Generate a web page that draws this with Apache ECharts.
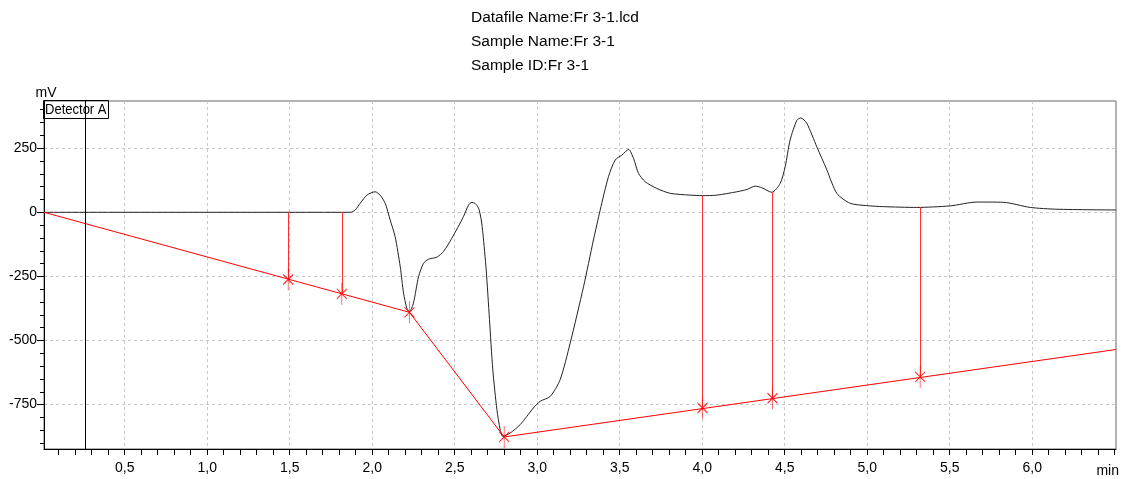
<!DOCTYPE html>
<html>
<head>
<meta charset="utf-8">
<script src="https://cdn.jsdelivr.net/npm/echarts@6/dist/echarts.min.js"></script>
<style>
html,body{margin:0;padding:0;background:#fff;}
#chart{width:1121px;height:479px;}
</style>
</head>
<body>
<div id="chart"></div>
<script>
// ---- Data ----
var titleLines = ['Datafile Name:Fr 3-1.lcd', 'Sample Name:Fr 3-1', 'Sample ID:Fr 3-1'];

var traceT = [0.011, 1.80, 1.867, 1.897, 1.927, 1.97, 2.018, 2.048, 2.079, 2.109, 2.139, 2.170, 2.19, 2.21, 2.226,
  2.25, 2.281, 2.311, 2.341, 2.392, 2.432, 2.483, 2.553, 2.584, 2.604, 2.625, 2.645, 2.661, 2.671, 2.691, 2.711,
  2.731, 2.756, 2.776, 2.792, 2.836, 2.897, 2.937, 2.977, 3.018, 3.079, 3.139, 3.2, 3.281, 3.341, 3.382, 3.432,
  3.473, 3.513, 3.554, 3.584, 3.614, 3.655, 3.725, 3.806, 3.927, 4.002, 4.089, 4.21, 4.271, 4.321, 4.361, 4.422,
  4.473, 4.503, 4.533, 4.574, 4.598, 4.634, 4.695, 4.756, 4.816, 4.897, 4.998, 5.099, 5.30, 5.503, 5.665, 5.826,
  5.988, 6.15, 6.508];
var traceV = [0, 0, 0, 9, 35, 68, 80, 67, 35, -30, -95, -212, -315, -374, -387,
  -354, -251, -199, -183, -175, -153, -101, -17, 28, 39, 34, 16, -30, -82, -225, -419,
  -614, -770, -848, -874, -861, -828, -796, -763, -737, -718, -653, -510, -290, -108, 9, 139,
  204, 223, 245, 210, 152, 119, 93, 74, 67, 65, 67, 80, 89, 102, 96, 78,
  113, 178, 282, 359, 368, 347, 255, 165, 74, 35, 26, 22, 19, 25, 40, 39,
  19, 12, 9];

var baseT = [0.011, 2.226, 2.80, 6.508];
var baseV = [0, -390, -876, -535];

var markT = [1.491, 1.816, 2.226, 2.80, 4.002, 4.426, 5.321];
var markV = [-262, -318, -390, -876, -763, -725, -642];

var dropT = [1.491, 1.816, 4.002, 4.426, 5.321];
var dropTop = [0, 0, 65, 79, 20];
var dropBottom = [-262, -318, -763, -725, -642];

var cursorT = 0.263;

var xMajorTicks = [0.5, 1.0, 1.5, 2.0, 2.5, 3.0, 3.5, 4.0, 4.5, 5.0, 5.5, 6.0];
var xMinorTicks = [0.1, 0.2, 0.3, 0.4, 0.5, 0.6, 0.7, 0.8, 0.9, 1.0, 1.1, 1.2, 1.3, 1.4, 1.5, 1.6, 1.7, 1.8, 1.9, 2.0,
  2.1, 2.2, 2.3, 2.4, 2.5, 2.6, 2.7, 2.8, 2.9, 3.0, 3.1, 3.2, 3.3, 3.4, 3.5, 3.6, 3.7, 3.8, 3.9, 4.0,
  4.1, 4.2, 4.3, 4.4, 4.5, 4.6, 4.7, 4.8, 4.9, 5.0, 5.1, 5.2, 5.3, 5.4, 5.5, 5.6, 5.7, 5.8, 5.9, 6.0,
  6.1, 6.2, 6.3, 6.4, 6.5];
var yMajorTicks = [-750, -500, -250, 0, 250];
var yMinorTicks = [-900, -850, -800, -750, -700, -650, -600, -550, -500, -450, -400, -350, -300, -250, -200, -150,
  -100, -50, 0, 50, 100, 150, 200, 250, 300, 350, 400];

var xMin = 0.011, xMax = 6.508, yMin = -923, yMax = 434;

// ---- Build ----
function pairs(a, b) { return a.map(function (v, i) { return [v, b[i]]; }); }
var dropLines = dropT.map(function (t, i) {
  return [{ coord: [t, dropTop[i]] }, { coord: [t, dropBottom[i]] }];
});

var FONT = 'Liberation Sans';
var gridDash = { color: '#c8c8c8', type: [3, 3], width: 1 };

var chart = echarts.init(document.getElementById('chart'), null, { renderer: 'canvas' });
chart.setOption({
  animation: false,
  backgroundColor: '#fff',
  title: {
    text: titleLines.join('\n'),
    left: 471, top: 6, padding: 0,
    textStyle: { fontFamily: FONT, fontSize: 15.5, fontWeight: 'normal', color: '#000', lineHeight: 24 }
  },
  grid: { left: 44, right: 5, top: 101, bottom: 30, show: true, borderColor: '#666', borderWidth: 1, backgroundColor: 'transparent' },
  xAxis: [
    {
      type: 'value', min: xMin, max: xMax, position: 'bottom',
      axisLine: { show: true, onZero: false, lineStyle: { color: '#000', width: 1 } },
      axisTick: { show: true, length: 6, customValues: xMinorTicks, lineStyle: { color: '#000' } },
      axisLabel: { show: true, customValues: xMajorTicks, margin: 12, fontFamily: FONT, fontSize: 14, color: '#000',
        formatter: function (v) { return v.toFixed(1).replace('.', ','); } },
      splitLine: { show: false }
    },
    {
      type: 'value', min: xMin, max: xMax, position: 'bottom',
      axisLine: { show: false, onZero: false },
      axisTick: { show: false, customValues: xMajorTicks },
      axisLabel: { show: false, customValues: xMajorTicks },
      splitLine: { show: true, lineStyle: gridDash }
    }
  ],
  yAxis: [
    {
      type: 'value', min: yMin, max: yMax, position: 'left',
      name: 'mV', nameLocation: 'end', nameGap: 1,
      nameTextStyle: { fontFamily: FONT, fontSize: 14, color: '#000', align: 'center', padding: [0, 0, 0, 4] },
      axisLine: { show: true, onZero: false, lineStyle: { color: '#000', width: 1 } },
      axisTick: { show: true, length: 4, customValues: yMinorTicks, lineStyle: { color: '#000' } },
      axisLabel: { show: false, customValues: yMajorTicks },
      splitLine: { show: false }
    },
    {
      type: 'value', min: yMin, max: yMax, position: 'left',
      axisLine: { show: false, onZero: false },
      axisTick: { show: true, length: 7, customValues: yMajorTicks, lineStyle: { color: '#000' } },
      axisLabel: { show: true, customValues: yMajorTicks, margin: 7, fontFamily: FONT, fontSize: 14, color: '#000' },
      splitLine: { show: true, lineStyle: gridDash }
    }
  ],
  series: [
    {
      type: 'line', name: 'trace', xAxisIndex: 0, yAxisIndex: 0,
      data: pairs(traceT, traceV), showSymbol: false, symbol: 'none', smooth: 0.25,
      lineStyle: { color: '#222', width: 1 }, z: 3,
      markLine: {
        silent: true, symbol: ['none', 'none'], label: { show: false },
        lineStyle: { color: '#000', width: 1, type: 'solid' },
        data: [{ xAxis: cursorT }]
      }
    },
    {
      type: 'line', name: 'baseline', xAxisIndex: 0, yAxisIndex: 0,
      data: pairs(baseT, baseV), showSymbol: false, symbol: 'none',
      lineStyle: { color: '#ff0000', width: 1 }, z: 4,
      markLine: {
        silent: true, symbol: ['none', 'none'], label: { show: false },
        lineStyle: { color: '#ff3030', width: 1, type: 'solid' },
        data: dropLines
      }
    },
    {
      type: 'scatter', name: 'marks', xAxisIndex: 0, yAxisIndex: 0,
      data: pairs(markT, markV),
      symbol: 'path://M5,0L5,22M0,6L10,16M0,16L10,6', symbolSize: [10, 22],
      itemStyle: { color: 'rgba(0,0,0,0)', borderColor: '#ff0000', borderWidth: 1 }, z: 5
    }
  ],
  graphic: [
    { type: 'rect', shape: { x: 43.5, y: 100.5, width: 65, height: 18 }, style: { fill: 'none', stroke: '#000', lineWidth: 1 }, z: 10 },
    { type: 'text', x: 45, y: 110, scaleX: 0.93, style: { text: 'Detector A', fontFamily: FONT, fontSize: 14, fill: '#000', verticalAlign: 'middle', align: 'left' }, z: 11 },
    { type: 'text', x: 1119, y: 471, style: { text: 'min', fontFamily: FONT, fontSize: 14, fill: '#000', verticalAlign: 'middle', align: 'right' }, z: 11 }
  ]
});
</script>
</body>
</html>
